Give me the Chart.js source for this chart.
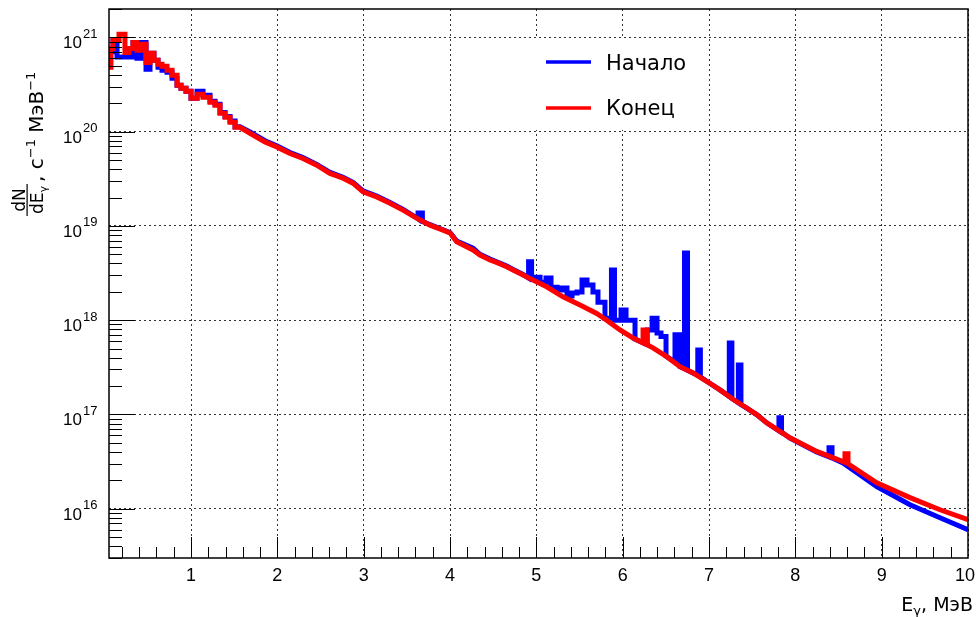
<!DOCTYPE html>
<html>
<head>
<meta charset="utf-8">
<script src="https://cdn.jsdelivr.net/npm/chart.js@4/dist/chart.umd.min.js"></script>
<style>
  html, body { margin: 0; padding: 0; background: #fff; }
  #wrap { width: 976px; height: 617px; }
</style>
</head>
<body>
<div id="wrap"><canvas id="chart" width="976" height="617"></canvas></div>
<script>
// tick values and labels
const xTickValues = [1, 2, 3, 4, 5, 6, 7, 8, 9, 10];
const yTickValues = [1e16, 1e17, 1e18, 1e19, 1e20, 1e21];
const yTickExponents = ['16', '17', '18', '19', '20', '21'];
const seriesNames = ['Начало', 'Конец'];

// [E (МэВ), dN/dE], start of run (blue)
const startSpectrum = [
  [0.05, 7.02e20], [0.096, 7.02e20], [0.096, 9.3e20], [0.143, 9.3e20], [0.143, 6.2e20], [0.328, 6.2e20],
  [0.328, 8.85e20], [0.374, 8.85e20], [0.374, 6.0e20], [0.42, 6.0e20], [0.42, 8.85e20], [0.479, 8.85e20],
  [0.479, 4.6e20], [0.525, 4.6e20], [0.525, 6.77e20], [0.571, 6.77e20], [0.571, 5.71e20], [0.618, 5.71e20],
  [0.618, 4.81e20], [0.664, 4.81e20], [0.664, 4.47e20], [0.722, 4.47e20], [0.722, 4.26e20], [0.78, 4.26e20],
  [0.78, 3.68e20], [0.838, 3.68e20], [0.838, 3.10e20], [0.884, 3.10e20], [0.884, 2.88e20], [0.942, 2.88e20],
  [0.942, 2.68e20], [1.0, 2.68e20], [1.0, 2.26e20], [1.07, 2.26e20], [1.07, 2.68e20], [1.139, 2.68e20],
  [1.139, 2.43e20], [1.22, 2.43e20], [1.22, 2.1e20], [1.278, 2.1e20], [1.278, 1.95e20], [1.336, 1.95e20],
  [1.336, 1.6e20], [1.394, 1.6e20], [1.394, 1.45e20], [1.452, 1.45e20], [1.452, 1.3e20], [1.51, 1.3e20],
  [1.51, 1.13e20], [1.567, 1.13e20],
  [1.683, 9.9e19], [1.857, 8.0e19], [1.993, 7.1e19], [2.147, 6.0e19], [2.297, 5.3e19], [2.456, 4.5e19],
  [2.61, 3.7e19], [2.761, 3.28e19], [2.876, 2.9e19], [2.992, 2.35e19], [3.151, 2.07e19], [3.305, 1.77e19],
  [3.456, 1.5e19], [3.614, 1.22e19], [3.63, 1.19e19], [3.63, 1.37e19], [3.68, 1.37e19], [3.68, 1.12e19],
  [3.768, 1.03e19], [3.919, 9.1e18], [4.0, 8.5e18], [4.078, 6.9e18], [4.266, 5.8e18], [4.347, 5.0e18],
  [4.463, 4.45e18], [4.54, 4.15e18], [4.657, 3.75e18], [4.73, 3.45e18], [4.846, 3.05e18],
  [4.91, 2.8e18], [4.91, 4.17e18], [4.945, 4.17e18], [4.945, 2.86e18], [5.043, 2.86e18], [5.043, 2.53e18],
  [5.112, 2.53e18], [5.112, 2.80e18], [5.17, 2.80e18], [5.17, 2.23e18], [5.24, 2.23e18], [5.24, 2.09e18],
  [5.297, 2.09e18], [5.297, 2.19e18], [5.355, 2.19e18], [5.355, 1.80e18], [5.413, 1.80e18], [5.413, 1.94e18],
  [5.471, 1.94e18], [5.471, 1.99e18], [5.529, 1.99e18], [5.529, 2.67e18], [5.587, 2.67e18], [5.587, 2.36e18],
  [5.656, 2.36e18], [5.656, 1.99e18], [5.714, 1.99e18], [5.714, 1.55e18], [5.795, 1.55e18], [5.795, 1.05e18],
  [5.87, 1.05e18], [5.87, 3.41e18], [5.905, 3.41e18], [5.905, 1.0e18], [5.981, 1.0e18], [5.981, 1.28e18],
  [6.039, 1.28e18], [6.039, 1.0e18], [6.143, 1.0e18], [6.143, 6.3e17], [6.283, 5.5e17], [6.283, 7.87e17],
  [6.341, 7.87e17], [6.341, 1.05e18], [6.398, 1.05e18], [6.398, 7.31e17], [6.444, 7.31e17], [6.444, 6.7e17],
  [6.502, 6.7e17], [6.502, 4.15e17], [6.606, 3.6e17], [6.606, 7.0e17], [6.664, 7.0e17], [6.664, 3.21e17],
  [6.716, 3.05e17], [6.716, 5.15e18], [6.751, 5.15e18], [6.751, 2.95e17], [6.87, 2.6e17], [6.87, 4.83e17],
  [6.9, 4.83e17], [6.9, 2.5e17], [6.973, 2.25e17], [7.127, 1.82e17], [7.235, 1.55e17], [7.235, 5.73e17],
  [7.265, 5.73e17], [7.265, 1.48e17], [7.34, 1.33e17], [7.34, 3.35e17], [7.37, 3.35e17], [7.37, 1.28e17],
  [7.437, 1.17e17], [7.556, 9.9e16], [7.668, 8.15e16], [7.81, 6.7e16], [7.81, 9.21e16], [7.84, 9.21e16],
  [7.84, 6.5e16], [7.938, 5.6e16], [8.247, 4.0e16], [8.39, 3.55e16], [8.39, 4.43e16], [8.425, 4.43e16],
  [8.425, 3.45e16], [8.552, 3.05e16], [8.943, 1.72e16], [9.328, 1.10e16], [9.676, 8.03e15], [10.0, 6.0e15]
];

// end of run (red)
const endSpectrum = [
  [0.05, 4.81e20], [0.073, 4.81e20], [0.073, 7.64e20], [0.096, 7.64e20], [0.096, 9.5e20], [0.166, 9.5e20],
  [0.166, 1.08e21], [0.235, 1.08e21], [0.235, 6.93e20], [0.282, 6.93e20], [0.282, 7.64e20], [0.328, 7.64e20],
  [0.328, 8.85e20], [0.374, 8.85e20], [0.374, 7.28e20], [0.42, 7.28e20], [0.42, 8.43e20], [0.479, 8.43e20],
  [0.479, 5.43e20], [0.525, 5.43e20], [0.525, 6.77e20], [0.571, 6.77e20], [0.571, 5.71e20], [0.618, 5.71e20],
  [0.618, 5.18e20], [0.664, 5.18e20], [0.664, 4.93e20], [0.722, 4.93e20], [0.722, 4.47e20], [0.78, 4.47e20],
  [0.78, 3.96e20], [0.838, 3.96e20], [0.838, 3.10e20], [0.884, 3.10e20], [0.884, 2.88e20], [0.942, 2.88e20],
  [0.942, 2.68e20], [1.0, 2.68e20], [1.0, 2.26e20], [1.07, 2.26e20], [1.07, 2.49e20], [1.139, 2.49e20],
  [1.139, 2.31e20], [1.22, 2.31e20], [1.22, 2.05e20], [1.278, 2.05e20], [1.278, 1.90e20], [1.336, 1.90e20],
  [1.336, 1.57e20], [1.394, 1.57e20], [1.394, 1.42e20], [1.452, 1.42e20], [1.452, 1.26e20], [1.51, 1.26e20],
  [1.51, 1.11e20], [1.567, 1.11e20],
  [1.683, 9.62e19], [1.857, 7.78e19], [1.993, 6.89e19], [2.147, 5.86e19], [2.297, 5.19e19], [2.456, 4.41e19],
  [2.61, 3.60e19], [2.761, 3.21e19], [2.876, 2.84e19], [2.992, 2.30e19], [3.151, 2.03e19], [3.305, 1.74e19],
  [3.456, 1.47e19], [3.614, 1.21e19], [3.768, 1.02e19], [3.919, 9.03e18], [4.0, 8.4e18], [4.078, 6.79e18],
  [4.266, 5.55e18], [4.347, 4.91e18], [4.463, 4.35e18], [4.54, 4.10e18], [4.657, 3.69e18], [4.73, 3.41e18],
  [4.846, 3.01e18], [4.961, 2.67e18], [5.12, 2.26e18], [5.309, 1.77e18], [5.506, 1.45e18], [5.699, 1.18e18],
  [5.815, 1.00e18], [5.969, 7.87e17], [6.12, 6.47e17], [6.236, 5.73e17], [6.236, 7.87e17], [6.283, 7.87e17],
  [6.283, 5.5e17], [6.351, 5.08e17], [6.51, 4.10e17], [6.664, 3.21e17], [6.815, 2.76e17], [6.973, 2.25e17],
  [7.127, 1.82e17], [7.278, 1.45e17], [7.437, 1.17e17], [7.556, 9.91e16], [7.668, 8.15e16], [7.938, 5.65e16],
  [8.247, 4.05e16], [8.575, 3.1e16], [8.575, 3.83e16], [8.61, 3.83e16], [8.61, 3.0e16], [8.943, 1.88e16],
  [9.328, 1.31e16], [9.676, 9.75e15], [10.0, 7.64e15]
];

const toPoints = arr => arr.map(([e, v]) => ({ x: e, y: v }));

// ROOT-like frame, inward ticks, labels, titles and legend box
const rootDecor = {
  id: 'rootDecor',
  afterDraw(chart) {
    const { ctx, chartArea: a } = chart;
    const xs = chart.scales.x;
    const ys = chart.scales.y;
    ctx.save();

    // legend
    ctx.fillStyle = '#fff';
    ctx.fillRect(536, 38, 170, 92);
    ctx.lineWidth = 3.5;
    ctx.strokeStyle = '#0000ff';
    ctx.beginPath(); ctx.moveTo(546, 62); ctx.lineTo(591, 62); ctx.stroke();
    ctx.strokeStyle = '#ff0000';
    ctx.beginPath(); ctx.moveTo(546, 108); ctx.lineTo(591, 108); ctx.stroke();
    ctx.fillStyle = '#000';
    ctx.font = '21px "DejaVu Sans"';
    ctx.textAlign = 'left';
    ctx.fillText(seriesNames[0], 606, 70);
    ctx.fillText(seriesNames[1], 606, 115);

    // frame
    ctx.strokeStyle = '#000';
    ctx.lineWidth = 1.5;
    ctx.strokeRect(a.left, a.top, a.right - a.left, a.bottom - a.top);

    // ticks pointing inside
    ctx.lineWidth = 1;
    ctx.beginPath();
    for (let i = 1; i < 50; i++) {
      const px = Math.round(xs.getPixelForValue(i / 5)) + 0.5;
      const len = i % 5 === 0 ? 21 : 11;
      ctx.moveTo(px, a.bottom);
      ctx.lineTo(px, a.bottom - len);
    }
    for (let e = 15; e <= 21; e++) {
      for (let m = 1; m <= 9; m++) {
        const v = m * Math.pow(10, e);
        if (v < ys.min || v > ys.max) continue;
        const py = Math.round(ys.getPixelForValue(v)) + 0.5;
        const len = m === 1 ? 26 : 13;
        ctx.moveTo(a.left, py);
        ctx.lineTo(a.left + len, py);
      }
    }
    ctx.stroke();

    // x tick labels
    ctx.font = '18px "Liberation Sans", Arial, sans-serif';
    ctx.textAlign = 'center';
    xTickValues.forEach(v => {
      let px = xs.getPixelForValue(v);
      const w = ctx.measureText(String(v)).width;
      if (px + w / 2 > 975) px = 975 - w / 2;
      ctx.fillText(String(v), px, 581);
    });

    // y tick labels 10^n
    yTickValues.forEach((v, i) => {
      const py = ys.getPixelForValue(v);
      ctx.font = '17px "Liberation Sans", Arial, sans-serif';
      ctx.textAlign = 'right';
      ctx.fillText('10', 82, py + 11);
      ctx.font = '13px "Liberation Sans", Arial, sans-serif';
      ctx.textAlign = 'left';
      ctx.fillText(yTickExponents[i], 83, py + 0.5);
    });

    // x title
    ctx.textAlign = 'left';
    const xParts = [['E', 19, 0], ['γ', 13, 4], [', МэВ', 19, 0]];
    let total = 0;
    xParts.forEach(([t, s]) => { ctx.font = s + 'px "DejaVu Sans"'; total += ctx.measureText(t).width; });
    let cx = 973 - total;
    xParts.forEach(([t, s, dy]) => {
      ctx.font = s + 'px "DejaVu Sans"';
      ctx.fillText(t, cx, 611 + dy);
      cx += ctx.measureText(t).width;
    });

    // y title, rotated, with fraction dN/dEγ
    ctx.translate(43, 216);
    ctx.rotate(-Math.PI / 2);
    ctx.font = '17px "DejaVu Sans"';
    const wdE = ctx.measureText('dE').width;
    const numW = ctx.measureText('dN').width;
    ctx.font = '11px "DejaVu Sans"';
    const denW = wdE + ctx.measureText('γ').width;
    const fw = Math.max(denW, numW) + 4;
    ctx.font = '17px "DejaVu Sans"';
    ctx.fillText('dN', (fw - numW) / 2, -18);
    ctx.fillText('dE', (fw - denW) / 2, 0);
    ctx.font = '11px "DejaVu Sans"';
    ctx.fillText('γ', (fw - denW) / 2 + wdE, 4);
    ctx.fillRect(0, -16.5, fw, 1.2);
    const yParts = [[', с', 20, 0], ['−1', 13, -8], [' МэВ', 20, 0], ['−1', 13, -8]];
    let tx = fw + 2;
    yParts.forEach(([t, s, dy]) => {
      ctx.font = s + 'px "DejaVu Sans"';
      ctx.fillText(t, tx, dy);
      tx += ctx.measureText(t).width;
    });

    ctx.restore();
  }
};

const gridStyle = { color: '#333', lineWidth: 1, drawTicks: false };

new Chart(document.getElementById('chart'), {
  type: 'line',
  data: {
    datasets: [
      {
        label: seriesNames[0],
        data: toPoints(startSpectrum),
        borderColor: '#0000ff',
        borderWidth: 5,
        order: 2
      },
      {
        label: seriesNames[1],
        data: toPoints(endSpectrum),
        borderColor: '#ff0000',
        borderWidth: 5,
        order: 1
      }
    ]
  },
  options: {
    responsive: false,
    animation: false,
    layout: { padding: { left: 109, right: 8, top: 9, bottom: 59 } },
    elements: {
      point: { radius: 0 },
      line: { tension: 0, borderJoinStyle: 'miter', borderCapStyle: 'butt', fill: false }
    },
    scales: {
      x: {
        type: 'linear',
        min: 0.05,
        max: 10,
        afterBuildTicks: s => { s.ticks = xTickValues.map(v => ({ value: v })); },
        ticks: { display: false },
        grid: gridStyle,
        border: { display: false, dash: [2, 3] }
      },
      y: {
        type: 'logarithmic',
        min: 3e15,
        max: 2e21,
        afterBuildTicks: s => { s.ticks = yTickValues.map(v => ({ value: v })); },
        ticks: { display: false },
        grid: gridStyle,
        border: { display: false, dash: [2, 3] }
      }
    },
    plugins: {
      legend: { display: false },
      tooltip: { enabled: false }
    }
  },
  plugins: [rootDecor]
});
</script>
</body>
</html>
